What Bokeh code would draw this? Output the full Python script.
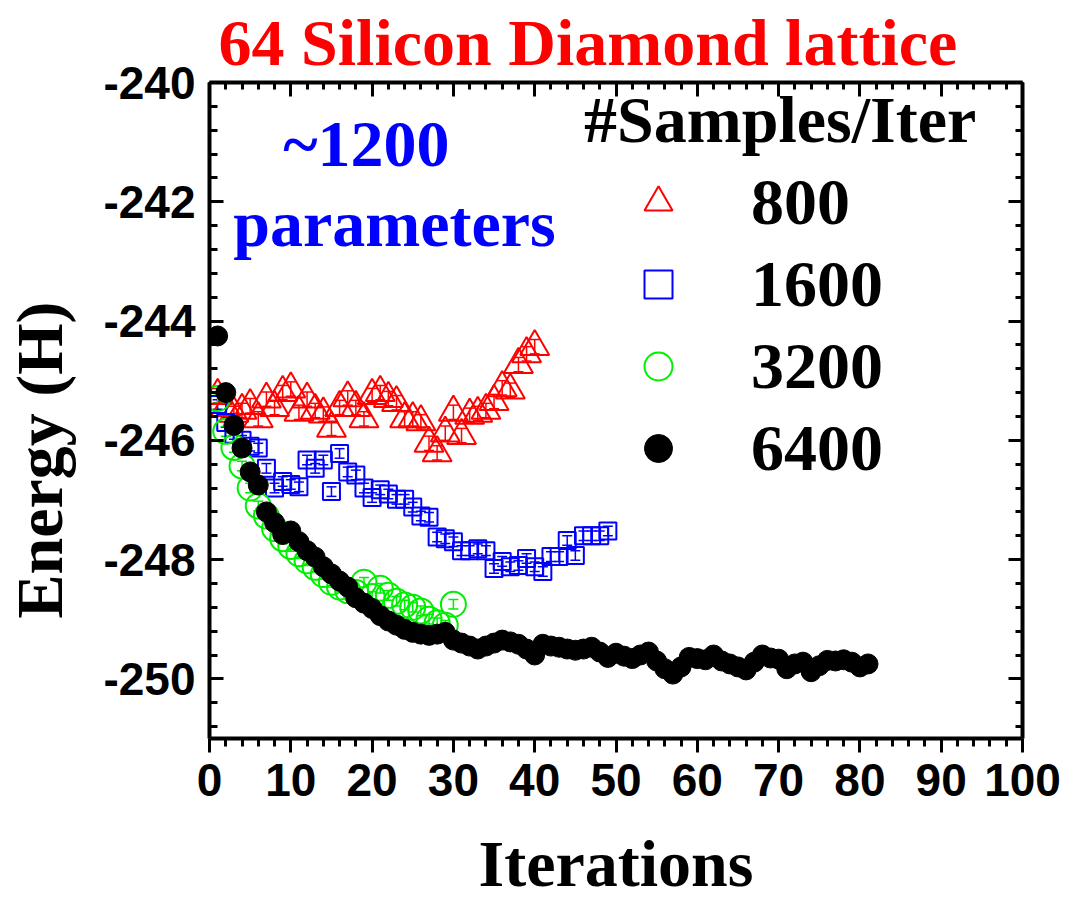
from bokeh.plotting import figure
from bokeh.models import (Range1d, LinearAxis, SingleIntervalTicker, Label, Legend,
                          LegendItem, Whisker, ColumnDataSource, TeeHead,
                          PrintfTickFormatter, CustomLabelingPolicy)
from bokeh.embed import file_html
from bokeh.resources import INLINE

# ---------------- data ----------------
iter_800 = list(range(1, 41))
energy_800 = [-245.25, -245.45, -245.55, -245.50, -245.42, -245.64, -245.31, -245.45, -245.20, -245.14,
              -245.53, -245.31, -245.50, -245.56, -245.80, -245.45, -245.29, -245.45, -245.64, -245.25,
              -245.20, -245.30, -245.37, -245.64, -245.64, -245.69, -246.05, -246.21, -245.88, -245.53,
              -245.92, -245.58, -245.55, -245.50, -245.35, -245.12, -245.16, -244.73, -244.55, -244.43]
err_800 = 0.12

iter_1600 = list(range(1, 50))
energy_1600 = [-245.40, -245.70, -245.90, -246.00, -246.10, -246.13, -246.47, -246.80, -246.69, -246.74,
               -246.78, -246.33, -246.47, -246.33, -246.86, -246.22, -246.53, -246.58, -246.80, -246.96,
               -246.83, -246.90, -246.99, -246.99, -247.12, -247.27, -247.29, -247.62, -247.65, -247.70,
               -247.85, -247.85, -247.82, -247.85, -248.15, -248.03, -248.12, -248.10, -247.98, -248.12,
               -248.20, -247.95, -247.95, -247.68, -247.93, -247.60, -247.60, -247.60, -247.52]
err_1600 = 0.08

iter_3200 = list(range(1, 31))
energy_3200 = [-245.30, -245.85, -246.12, -246.43, -246.80, -247.10, -247.27, -247.48, -247.65, -247.78,
               -247.90, -248.02, -248.13, -248.25, -248.38, -248.46, -248.52, -248.55, -248.38, -248.62,
               -248.48, -248.60, -248.70, -248.76, -248.80, -248.86, -249.00, -249.06, -249.10, -248.75]
err_3200 = 0.08

iter_6400 = list(range(1, 82))
energy_6400 = [-244.25, -245.20, -245.75, -246.13, -246.53, -246.75, -247.20, -247.38, -247.58, -247.52,
               -247.70, -247.85, -247.96, -248.12, -248.24, -248.36, -248.46, -248.64, -248.73, -248.82,
               -248.94, -249.03, -249.10, -249.17, -249.22, -249.25, -249.27, -249.25, -249.22, -249.35,
               -249.40, -249.45, -249.50, -249.45, -249.40, -249.35, -249.38, -249.42, -249.50, -249.60,
               -249.42, -249.45, -249.47, -249.50, -249.52, -249.50, -249.47, -249.55, -249.64, -249.57,
               -249.62, -249.66, -249.60, -249.55, -249.70, -249.83, -249.92, -249.80, -249.64, -249.66,
               -249.68, -249.60, -249.70, -249.75, -249.80, -249.85, -249.72, -249.60, -249.65, -249.67,
               -249.83, -249.75, -249.72, -249.88, -249.78, -249.69, -249.70, -249.68, -249.72, -249.80,
               -249.75]

series_labels = ["800", "1600", "3200", "6400"]
legend_title = "#Samples/Iter"
title_text = "64 Silicon Diamond lattice"
x_title = "Iterations"
y_title = "Energy (H)"
note_lines = ["~1200", "parameters"]

SERIF = "Liberation Serif"
SANS = "Liberation Sans"

# ---------------- figure ----------------
p = figure(width=1067, height=902, output_backend="svg", toolbar_location=None,
           x_range=Range1d(0, 100), y_range=Range1d(-251, -240),
           x_axis_location=None, y_axis_location=None,
           min_border_left=209, min_border_top=82, min_border_right=45, min_border_bottom=159,
           outline_line_color=None, background_fill_color="white", border_fill_color="white")
p.xgrid.visible = False
p.ygrid.visible = False

p.title.text = title_text
p.title.align = "left"
p.title.offset = 9
p.title.standoff = 0
p.title.text_color = "#ff0000"
p.title.text_font = SERIF
p.title.text_font_style = "bold"
p.title.text_font_size = "66px"

no_labels = CustomLabelingPolicy(code="return []")


def style_axis(ax, tick_in, tick_out, minor_in, minor_out, labels=True, standoff=10):
    ax.axis_line_width = 4
    ax.axis_line_color = "black"
    ax.major_tick_line_width = 3
    ax.minor_tick_line_width = 3
    ax.major_tick_line_color = "black"
    ax.minor_tick_line_color = "black"
    ax.major_tick_in = tick_in
    ax.major_tick_out = tick_out
    ax.minor_tick_in = minor_in
    ax.minor_tick_out = minor_out
    ax.formatter = PrintfTickFormatter(format="%d")
    ax.major_label_text_font = SANS
    ax.major_label_text_font_style = "bold"
    ax.major_label_text_color = "black"
    if labels:
        ax.major_label_text_font_size = "46px"
        ax.major_label_standoff = standoff
    else:
        ax.major_label_policy = no_labels
        ax.major_label_text_font_size = "2px"
        ax.major_label_standoff = 0
    ax.axis_label_text_font = SERIF
    ax.axis_label_text_font_style = "bold"
    ax.axis_label_text_font_size = "66px"
    ax.axis_label_text_color = "black"


xb = LinearAxis(ticker=SingleIntervalTicker(interval=10, num_minor_ticks=5))
style_axis(xb, 0, 14, 0, 8, True, 11)
xb.axis_label = x_title
xb.axis_label_text_line_height = 0.9
xb.axis_label_standoff = 28
p.add_layout(xb, "below")

xt = LinearAxis(ticker=SingleIntervalTicker(interval=10, num_minor_ticks=5))
style_axis(xt, 14, 0, 7, 0, False)
p.add_layout(xt, "above")

yl = LinearAxis(ticker=SingleIntervalTicker(interval=2, num_minor_ticks=5))
style_axis(yl, 14, 0, 8, 0, True, 14)
yl.axis_label = y_title + "\u00a0" * 6
yl.axis_label_standoff = 24
p.add_layout(yl, "left")

yr = LinearAxis(ticker=SingleIntervalTicker(interval=2, num_minor_ticks=5))
style_axis(yr, 14, 0, 7, 0, False)
p.add_layout(yr, "right")


def add_err(xs, ys, err, color):
    src = ColumnDataSource(dict(x=xs, lo=[v - err for v in ys], hi=[v + err for v in ys]))
    w = Whisker(base="x", lower="lo", upper="hi", source=src, dimension="height",
                line_color=color, line_width=1.5,
                upper_head=TeeHead(size=10, line_color=color, line_width=1.5),
                lower_head=TeeHead(size=10, line_color=color, line_width=1.5))
    p.add_layout(w)


add_err(iter_800, energy_800, err_800, "#ff0000")
add_err(iter_1600, energy_1600, err_1600, "#0000ff")
add_err(iter_3200, energy_3200, err_3200, "#00ee00")

r800 = p.scatter(iter_800, energy_800, marker="triangle", size=29, fill_color=None,
                 line_color="#ff0000", line_width=2)
r1600 = p.scatter(iter_1600, energy_1600, marker="square", size=17, fill_color=None,
                  line_color="#0000ff", line_width=2)
r3200 = p.scatter(iter_3200, energy_3200, marker="circle", size=25, fill_color=None,
                  line_color="#00ee00", line_width=2)
r6400 = p.scatter(iter_6400, energy_6400, marker="circle", size=20, fill_color="black",
                  line_color="black", line_width=1)

legend = Legend(items=[LegendItem(label=series_labels[0], renderers=[r800]),
                       LegendItem(label=series_labels[1], renderers=[r1600]),
                       LegendItem(label=series_labels[2], renderers=[r3200]),
                       LegendItem(label=series_labels[3], renderers=[r6400])],
                title=legend_title, location=(375, 252),
                border_line_color=None, background_fill_alpha=0,
                label_text_font=SERIF, label_text_font_style="bold", label_text_font_size="66px",
                label_text_color="black",
                title_text_font=SERIF, title_text_font_style="bold", title_text_font_size="66px",
                title_text_color="black",
                glyph_width=148, glyph_height=70, label_standoff=19, spacing=6,
                padding=0, margin=0, title_standoff=6)
p.add_layout(legend)

p.add_layout(Label(x=19.3, y=-241.03, text=note_lines[0], text_align="center",
                   text_baseline="alphabetic", text_color="#0000ff", text_font=SERIF,
                   text_font_style="bold", text_font_size="66px"))
p.add_layout(Label(x=22.75, y=-242.36, text=note_lines[1], text_align="center",
                   text_baseline="alphabetic", text_color="#0000ff", text_font=SERIF,
                   text_font_style="bold", text_font_size="66px"))

open("out.html", "w").write(file_html(p, INLINE))
